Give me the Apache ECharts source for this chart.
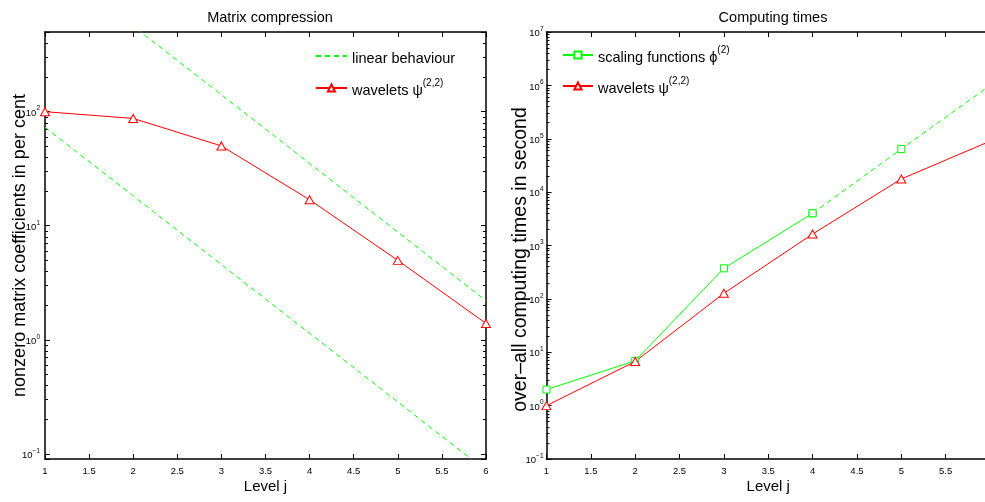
<!DOCTYPE html>
<html><head><meta charset="utf-8">
<script src="https://cdn.jsdelivr.net/npm/echarts@6/dist/echarts.min.js"></script>
<style>html,body{margin:0;padding:0;background:#fff}#c{width:985px;height:502px}</style>
</head><body><div id="c"></div>
<script>
// ---- data ----
const levels = [1, 2, 3, 4, 5, 6];
const xTickLabels = ['1', '1.5', '2', '2.5', '3', '3.5', '4', '4.5', '5', '5.5', '6'];
// left panel: Matrix compression (per cent)
const compWavelets = [100, 87.3, 50.1, 16.9, 4.97, 1.39];
const linearUpper = [2250, 563, 141, 35.2, 8.8, 2.2];
const linearLower = [73, 18.3, 4.56, 1.14, 0.285, 0.0713];
const leftYTickExps = [-1, 0, 1, 2];
// right panel: Computing times (seconds)
const scalingLevels = [1, 2, 3, 4];
const scalingTimes = [2.0, 6.9, 374, 4010];
const scalingExtLevels = [4, 5, 6];
const scalingExtTimes = [4010, 64100, 1.0e6];
const waveletTimes = [1.0, 6.7, 127, 1640, 17600, 90000];
const rightYTickExps = [-1, 0, 1, 2, 3, 4, 5, 6, 7];

const FONT = 'Liberation Sans, Arial, sans-serif';
const RED = '#ff0000', GREEN = '#00ff00';

function pairs(xs, ys) { return xs.map((x, i) => [x, ys[i]]); }
function logLabel(exps) {
  return function (v) {
    const e = Math.round(Math.log10(v));
    if (exps.indexOf(e) < 0 || Math.abs(v - Math.pow(10, e)) > 1e-6 * Math.pow(10, e)) return '';
    return '{b|10}{e|' + (e < 0 ? '\u2212' + (-e) : e) + '}';
  };
}
const labelRich = {
  b: { fontSize: 9.5, fontFamily: FONT, color: '#000', lineHeight: 13, verticalAlign: 'bottom' },
  e: { fontSize: 6.5, fontFamily: FONT, color: '#000', lineHeight: 13, verticalAlign: 'top' }
};
const legendRich = {
  a: { fontSize: 14.5, fontFamily: FONT, color: '#000', lineHeight: 20, verticalAlign: 'bottom' },
  s: { fontSize: 10, fontFamily: FONT, color: '#000', lineHeight: 20, verticalAlign: 'top' }
};
const legendNames = {
  'linear behaviour': '{a|linear behaviour}',
  'wavelets (compression)': '{a|wavelets \u03c8}{s|(2,2)}',
  'scaling functions': '{a|scaling functions \u03d5}{s|(2)}',
  'wavelets (times)': '{a|wavelets \u03c8}{s|(2,2)}'
};

function xAx(grid, pos) {
  const main = pos === 'bottom';
  return {
    type: 'value', gridIndex: grid, position: pos, min: 1, max: 6, interval: 0.5,
    axisLine: { show: true, onZero: false, lineStyle: { color: '#000', width: 1.5 } },
    axisTick: { show: true, inside: true, length: 5, lineStyle: { color: '#000' } },
    splitLine: { show: false },
    axisLabel: {
      show: main, margin: 7, fontSize: 9.5, fontFamily: FONT, color: '#000',
      formatter: v => { const i = Math.round((v - 1) / 0.5); return xTickLabels[i] || ''; }
    },
    name: main ? 'Level j' : '', nameLocation: 'middle', nameGap: 20, nameMoveOverlap: false,
    nameTextStyle: { fontSize: 15, fontFamily: FONT, color: '#000' }
  };
}
function yAx(grid, pos, min, max, exps, name, gap, fs, pad, margin) {
  const main = pos === 'left';
  return {
    type: 'log', logBase: 10, gridIndex: grid, position: pos, min: min, max: max,
    axisLine: { show: true, onZero: false, lineStyle: { color: '#000', width: 1.5 } },
    axisTick: { show: true, inside: true, length: 5, lineStyle: { color: '#000' } },
    minorTick: { show: true, splitNumber: 9, length: 3, lineStyle: { color: '#000' } },
    splitLine: { show: false }, minorSplitLine: { show: false },
    axisLabel: {
      show: main, margin: margin || 4, formatter: logLabel(exps), rich: labelRich,
      showMinLabel: true, showMaxLabel: true
    },
    name: main ? name : '', nameLocation: 'middle', nameGap: gap, nameMoveOverlap: false,
    nameTextStyle: { fontSize: fs || 15, fontFamily: FONT, color: '#000', padding: pad || 0 }
  };
}
const triStyle = { color: '#fff', borderColor: RED, borderWidth: 1 };
const sqStyle = { color: '#fff', borderColor: GREEN, borderWidth: 1 };

const option = {
  backgroundColor: '#fff',
  animation: false,
  title: [
    { text: 'Matrix compression', left: 265, top: 5, textAlign: 'center',
      textStyle: { fontSize: 14.5, fontWeight: 'normal', fontFamily: FONT, color: '#000' } },
    { text: 'Computing times', left: 768, top: 5, textAlign: 'center',
      textStyle: { fontSize: 14.5, fontWeight: 'normal', fontFamily: FONT, color: '#000' } }
  ],
  grid: [
    { left: 45, top: 32, width: 441, height: 427, outerBoundsMode: 'none' },
    { left: 546.5, top: 32, width: 443.5, height: 427, outerBoundsMode: 'none' }
  ],
  legend: [
    { data: [{ name: 'linear behaviour', itemStyle: { opacity: 0 } }, 'wavelets (compression)'],
      orient: 'vertical', left: 310, top: 46,
      itemWidth: 31, itemHeight: 9, itemGap: 12, formatter: n => legendNames[n],
      textStyle: { rich: legendRich }, selectedMode: false },
    { data: ['scaling functions', 'wavelets (times)'], orient: 'vertical', left: 557, top: 40,
      itemWidth: 30, itemHeight: 9, itemGap: 11, formatter: n => legendNames[n],
      textStyle: { rich: legendRich }, selectedMode: false }
  ],
  xAxis: [xAx(0, 'bottom'), xAx(0, 'top'), xAx(1, 'bottom'), xAx(1, 'top')],
  yAxis: [
    yAx(0, 'left', 0.09, 500, leftYTickExps, 'nonzero matrix coefficients in per cent', 16, 18, 0, 5),
    yAx(0, 'right', 0.09, 500, leftYTickExps, '', 0),
    yAx(1, 'left', 0.1, 1e7, rightYTickExps, 'over\u2013all computing times in second', 16, 19.5, [0, 28, 0, 0], 3),
    yAx(1, 'right', 0.1, 1e7, rightYTickExps, '', 0)
  ],
  series: [
    { name: 'linear behaviour', type: 'line', xAxisIndex: 0, yAxisIndex: 0, data: pairs(levels, linearUpper),
      symbol: 'none', clip: true, lineStyle: { color: GREEN, width: 1, type: [5, 4] }, itemStyle: { color: GREEN } },
    { name: 'linear behaviour', type: 'line', xAxisIndex: 0, yAxisIndex: 0, data: pairs(levels, linearLower),
      symbol: 'none', clip: true, lineStyle: { color: GREEN, width: 1, type: [5, 4] }, itemStyle: { color: GREEN } },
    { name: 'wavelets (compression)', type: 'line', xAxisIndex: 0, yAxisIndex: 0, data: pairs(levels, compWavelets),
      symbol: 'triangle', symbolSize: [9, 8], clip: false,
      lineStyle: { color: RED, width: 1 }, itemStyle: triStyle },
    { name: 'scaling functions', type: 'line', xAxisIndex: 2, yAxisIndex: 2, data: pairs(scalingLevels, scalingTimes),
      symbol: 'rect', symbolSize: 7, clip: false,
      lineStyle: { color: GREEN, width: 1 }, itemStyle: sqStyle },
    { name: 'scaling functions', type: 'line', xAxisIndex: 2, yAxisIndex: 2, data: pairs(scalingExtLevels, scalingExtTimes),
      symbol: 'rect', symbolSize: 7, clip: false, showAllSymbol: true,
      lineStyle: { color: GREEN, width: 1, type: [5, 4] }, itemStyle: sqStyle },
    { name: 'wavelets (times)', type: 'line', xAxisIndex: 2, yAxisIndex: 2, data: pairs(levels, waveletTimes),
      symbol: 'triangle', symbolSize: [9, 8], clip: false,
      lineStyle: { color: RED, width: 1 }, itemStyle: triStyle }
  ]
};
const chart = echarts.init(document.getElementById('c'), null, { renderer: 'canvas' });
chart.setOption(option);
</script></body></html>
